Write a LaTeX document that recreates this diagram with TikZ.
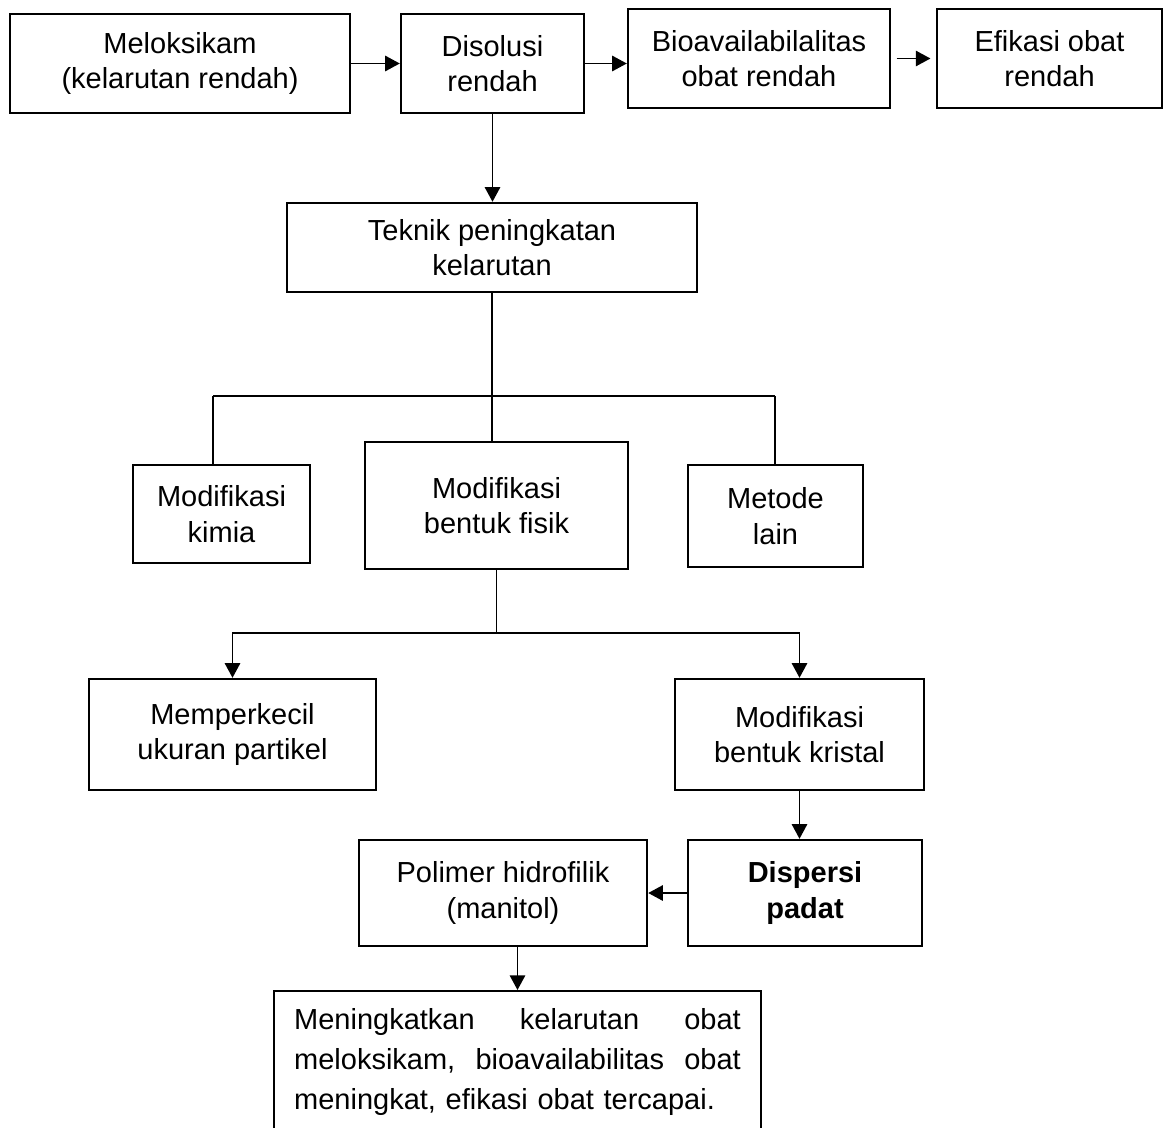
\documentclass[tikz,border=0pt]{standalone}
\usepackage{fontspec}
\setmainfont{Liberation Sans}
\usetikzlibrary{arrows.meta}

\tikzset{every picture/.style={line width=0.75pt}}
\tikzset{
kotak/.style={draw, line width=1.8pt, align=center, inner sep=2pt,
  font=\fontsize{21.75}{26.5}\selectfont},
panah/.style={line width=1.4pt, -{Triangle[length=11pt,width=11.5pt]}},
garis/.style={line width=1.4pt}}

\begin{document}
\begin{tikzpicture}[x=0.75pt,y=0.75pt,yscale=-1,xscale=1]
\useasboundingbox (0,0) rectangle (1169,1127);

% Text Node
\node [kotak, minimum width=255pt, minimum height=74.25pt] (meloks) at (180,63.5) {Meloksikam\\(kelarutan rendah)};
% Text Node
\node [kotak, minimum width=137.25pt, minimum height=74.25pt] (disol) at (492.5,63.5) {Disolusi\\rendah};
% Text Node
\node [kotak, minimum width=196.5pt, minimum height=74.25pt] (bioav) at (759,58.5) {Bioavailabilalitas\\obat rendah};
% Text Node
\node [kotak, minimum width=168.75pt, minimum height=74.25pt] (efik) at (1049.5,58.5) {Efikasi obat\\rendah};
% Text Node
\node [kotak, minimum width=307.5pt, minimum height=66.75pt] (teknik) at (492,247.5) {Teknik peningkatan\\kelarutan};
% Text Node
\node [kotak, minimum width=132.75pt, minimum height=73.5pt] (kimia) at (221.5,514) {Modifikasi\\kimia};
% Text Node
\node [kotak, minimum width=197.25pt, minimum height=95.25pt] (fisik) at (496.5,505.5) {Modifikasi\\bentuk fisik};
% Text Node
\node [kotak, minimum width=131.25pt, minimum height=76.5pt] (lain) at (775.5,516) {Metode\\lain};
% Text Node
\node [kotak, minimum width=215.25pt, minimum height=83.25pt] (kecil) at (232.5,734.5) {Memperkecil\\ukuran partikel};
% Text Node
\node [kotak, minimum width=186.75pt, minimum height=83.25pt] (kristal) at (799.5,734.5) {Modifikasi\\bentuk kristal};
% Text Node
\node [kotak, minimum width=175.5pt, minimum height=79.5pt] (dispersi) at (805,893) {\textbf{Dispersi}\\\textbf{padat}};
% Text Node
\node [kotak, minimum width=216pt, minimum height=79.5pt] (polimer) at (503,893) {Polimer hidrofilik\\(manitol)};
% Text Node
\node [kotak, anchor=north, align=left, text width=335pt, inner xsep=15pt, inner ysep=13pt,
  font=\fontsize{21.75}{30}\selectfont] (hasil) at (517.5,990)
  {\makebox[335pt][l]{Meningkatkan\hfill kelarutan\hfill obat}\\
   \makebox[335pt][l]{meloksikam,\hfill bioavailabilitas\hfill obat}\\
   meningkat, efikasi obat tercapai.\\ \mbox{}};

%Straight Lines
\draw [panah] (meloks.east) -- (disol.west);
\draw [panah] (disol.east) -- (disol.east -| bioav.west);
\draw [panah, shorten <=4pt, shorten >=4pt] (bioav.east) -- (efik.west);
\draw [panah] (disol.south) -- (disol.south |- teknik.north);

%Straight Lines
\coordinate (cabang1) at (492,396);
\coordinate (kiri1) at (213,396);
\coordinate (kanan1) at (775,396);
\draw [garis] (teknik.south) -- (cabang1);
\draw [garis] (kiri1) -- (kanan1);
\draw [garis] (kiri1) -- (kiri1 |- kimia.north);
\draw [garis] (cabang1) -- (cabang1 |- fisik.north);
\draw [garis] (kanan1) -- (kanan1 |- lain.north);

%Straight Lines
\coordinate (cabang2) at (fisik.south |- 0,633);
\draw [garis] (fisik.south) -- (cabang2);
\draw [panah] (cabang2) -| (kecil.north);
\draw [panah] (cabang2) -| (kristal.north);
\draw [panah] (kristal.south) -- (kristal.south |- dispersi.north);
\draw [panah] (dispersi.west) -- (polimer.east);
\draw [panah] (polimer.south -| hasil.north) -- (hasil.north);

\end{tikzpicture}
\end{document}
